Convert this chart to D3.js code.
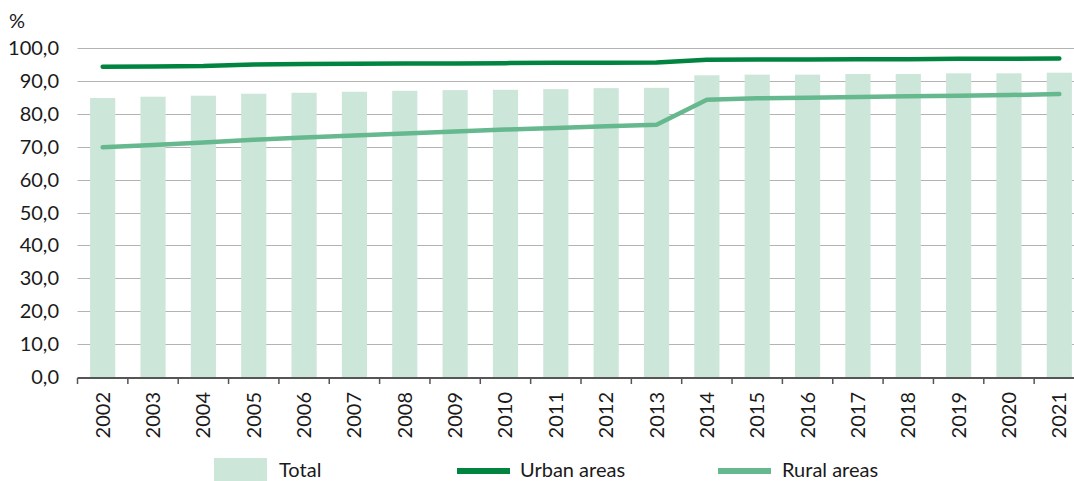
<!DOCTYPE html>
<html>
<head>
<meta charset="utf-8">
<script src="https://cdn.jsdelivr.net/npm/d3@7.9.0/dist/d3.min.js"></script>
<style>
  html, body { margin: 0; padding: 0; background: #fff; }
  svg { display: block; font-family: Lato, "Open Sans", sans-serif; }
</style>
</head>
<body>
<svg id="chart" width="1074" height="481"></svg>
<script>
// chart data
const years = ['2002', '2003', '2004', '2005', '2006', '2007', '2008', '2009', '2010', '2011',
  '2012', '2013', '2014', '2015', '2016', '2017', '2018', '2019', '2020', '2021'];
const total = [84.8, 85.2, 85.5, 86.1, 86.4, 86.7, 87.0, 87.2, 87.3, 87.5,
  87.8, 87.9, 91.7, 91.9, 91.9, 92.1, 92.1, 92.3, 92.3, 92.5];
const urban = [94.3, 94.4, 94.5, 95.0, 95.1, 95.2, 95.3, 95.3, 95.4, 95.5,
  95.5, 95.6, 96.4, 96.5, 96.5, 96.6, 96.6, 96.7, 96.7, 96.8];
const rural = [69.8, 70.5, 71.3, 72.1, 72.8, 73.4, 74.0, 74.6, 75.2, 75.7,
  76.2, 76.7, 84.3, 84.7, 84.9, 85.1, 85.3, 85.5, 85.7, 86.0];
const yTicks = [0, 10, 20, 30, 40, 50, 60, 70, 80, 90, 100];

const svg = d3.select('#chart');

const x = d3.scaleBand()
  .domain(years)
  .range([77.5, 1084.5])
  .paddingInner(0.5)
  .paddingOuter(0.25);

const y = d3.scaleLinear()
  .domain([0, 100])
  .range([377, 48]);

const fmt = d => d.toFixed(1).replace('.', ',');
const fs = 20;

// gridlines
svg.append('g')
  .selectAll('line')
  .data(yTicks.filter(d => d > 0))
  .enter()
  .append('line')
  .attr('x1', 77.5)
  .attr('x2', 1074)
  .attr('y1', d => Math.round(y(d)) + 0.5)
  .attr('y2', d => Math.round(y(d)) + 0.5)
  .attr('stroke', '#b3b3b3')
  .attr('stroke-width', 1);

// y labels
svg.append('g')
  .selectAll('text')
  .data(yTicks)
  .enter()
  .append('text')
  .attr('x', 59)
  .attr('y', d => y(d) + 7)
  .attr('text-anchor', 'end')
  .attr('font-size', fs)
  .attr('fill', '#1a1a1a')
  .text(fmt);

svg.append('text')
  .attr('x', 9)
  .attr('y', 28)
  .attr('font-size', fs)
  .attr('fill', '#1a1a1a')
  .text('%');

// bars
svg.append('g')
  .selectAll('rect')
  .data(total)
  .enter()
  .append('rect')
  .attr('x', (d, i) => x(years[i]))
  .attr('width', x.bandwidth())
  .attr('y', d => y(d))
  .attr('height', d => y(0) - y(d))
  .attr('fill', '#cde6da');

// x axis
const band = x.step();
svg.append('line')
  .attr('x1', 77.5).attr('x2', 1074)
  .attr('y1', 378).attr('y2', 378)
  .attr('stroke', '#555').attr('stroke-width', 2);

svg.append('g')
  .selectAll('line')
  .data(years)
  .enter()
  .append('line')
  .attr('x1', (d, i) => 77.5 + i * band)
  .attr('x2', (d, i) => 77.5 + i * band)
  .attr('y1', 378).attr('y2', 384)
  .attr('stroke', '#555').attr('stroke-width', 1.5);

svg.append('g')
  .selectAll('text')
  .data(years)
  .enter()
  .append('text')
  .attr('transform', d => `translate(${x(d) + x.bandwidth() / 2 + 7},392) rotate(-90)`)
  .attr('text-anchor', 'end')
  .attr('font-size', fs)
  .attr('fill', '#1a1a1a')
  .text(d => d);

// lines
const line = d3.line()
  .x((d, i) => x(years[i]) + x.bandwidth() / 2)
  .y(d => y(d));

svg.append('path')
  .datum(urban)
  .attr('d', line)
  .attr('fill', 'none')
  .attr('stroke', '#00843f')
  .attr('stroke-width', 4.5)
  .attr('stroke-linecap', 'round')
  .attr('stroke-linejoin', 'round');

svg.append('path')
  .datum(rural)
  .attr('d', line)
  .attr('fill', 'none')
  .attr('stroke', '#66b88e')
  .attr('stroke-width', 4.5)
  .attr('stroke-linecap', 'round')
  .attr('stroke-linejoin', 'round');

// legend
const legend = svg.append('g');
legend.append('rect')
  .attr('x', 214).attr('y', 458).attr('width', 53).attr('height', 23)
  .attr('fill', '#cde6da');
legend.append('text')
  .attr('x', 279).attr('y', 477).attr('font-size', fs).attr('fill', '#1a1a1a')
  .text('Total');

legend.append('line')
  .attr('x1', 457).attr('x2', 510).attr('y1', 471).attr('y2', 471)
  .attr('stroke', '#00843f').attr('stroke-width', 6);
legend.append('text')
  .attr('x', 520).attr('y', 477).attr('font-size', fs).attr('fill', '#1a1a1a')
  .text('Urban areas');

legend.append('line')
  .attr('x1', 718).attr('x2', 771).attr('y1', 471).attr('y2', 471)
  .attr('stroke', '#66b88e').attr('stroke-width', 6);
legend.append('text')
  .attr('x', 782).attr('y', 477).attr('font-size', fs).attr('fill', '#1a1a1a')
  .text('Rural areas');
</script>
</body>
</html>
